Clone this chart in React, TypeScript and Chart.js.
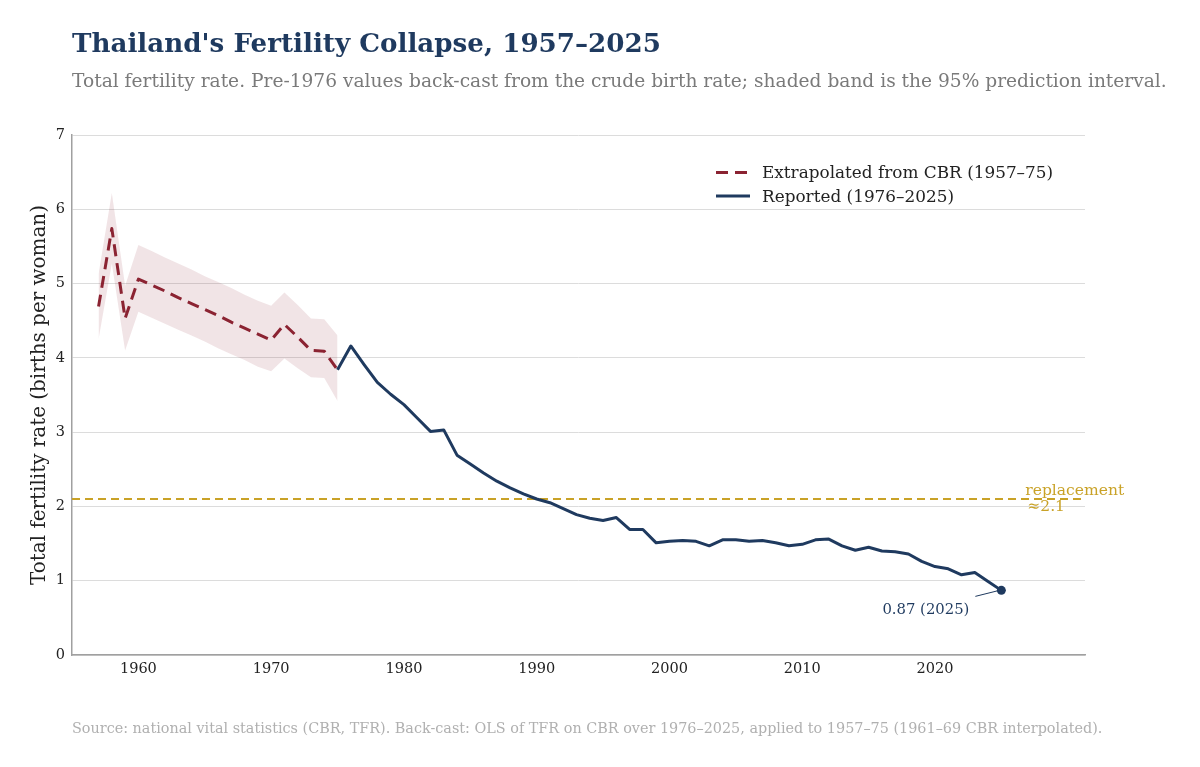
import React, { useEffect, useRef } from "react";
import { Chart, registerables } from "chart.js";

Chart.register(...registerables);

// ---------- data ----------
const extrapYears = [1957, 1958, 1959, 1960, 1961, 1962, 1963, 1964, 1965, 1966, 1967, 1968, 1969, 1970, 1971, 1972, 1973, 1974, 1975];
const extrapTFR = [4.69, 5.74, 4.53, 5.06, 4.98, 4.90, 4.81, 4.73, 4.65, 4.57, 4.48, 4.40, 4.32, 4.24, 4.45, 4.28, 4.10, 4.09, 3.84];
const bandUpper = [5.13, 6.22, 4.97, 5.52, 5.44, 5.35, 5.27, 5.19, 5.10, 5.02, 4.94, 4.85, 4.77, 4.70, 4.88, 4.71, 4.53, 4.52, 4.30];
const bandLower = [4.25, 5.27, 4.10, 4.62, 4.54, 4.46, 4.38, 4.30, 4.22, 4.13, 4.05, 3.97, 3.88, 3.82, 3.99, 3.86, 3.74, 3.73, 3.42];

const reportedYears = [
  1976, 1977, 1978, 1979, 1980, 1981, 1982, 1983, 1984, 1985,
  1986, 1987, 1988, 1989, 1990, 1991, 1992, 1993, 1994, 1995,
  1996, 1997, 1998, 1999, 2000, 2001, 2002, 2003, 2004, 2005,
  2006, 2007, 2008, 2009, 2010, 2011, 2012, 2013, 2014, 2015,
  2016, 2017, 2018, 2019, 2020, 2021, 2022, 2023, 2024, 2025,
];
const reportedTFR = [
  4.16, 3.91, 3.67, 3.51, 3.37, 3.19, 3.01, 3.03, 2.69, 2.57,
  2.45, 2.34, 2.25, 2.17, 2.10, 2.05, 1.97, 1.89, 1.84, 1.81,
  1.85, 1.69, 1.69, 1.51, 1.53, 1.54, 1.53, 1.47, 1.55, 1.55,
  1.53, 1.54, 1.51, 1.47, 1.49, 1.55, 1.56, 1.47, 1.41, 1.45,
  1.40, 1.39, 1.36, 1.26, 1.19, 1.16, 1.08, 1.11, 0.99, 0.87,
];

const xTicks = [1960, 1970, 1980, 1990, 2000, 2010, 2020];
const yTicks = [0, 1, 2, 3, 4, 5, 6, 7];
const replacementTFR = 2.1;
const xMin = 1955;
const xMax = 2031.3;

const TITLE = "Thailand's Fertility Collapse, 1957\u20132025";
const SUBTITLE = "Total fertility rate. Pre-1976 values back-cast from the crude birth rate; shaded band is the 95% prediction interval.";
const FOOTER = "Source: national vital statistics (CBR, TFR). Back-cast: OLS of TFR on CBR over 1976\u20132025, applied to 1957\u201375 (1961\u201369 CBR interpolated).";
const Y_TITLE = "Total fertility rate (births per woman)";
const LEGEND_EXTRAP = "Extrapolated from CBR (1957\u201375)";
const LEGEND_REPORTED = "Reported (1976\u20132025)";

const NAVY = "#1f3a5f";
const RED = "#8b2332";
const GOLD = "#c9a227";
const FONT = "'DejaVu Serif', serif";

function fitFont(ctx: CanvasRenderingContext2D, text: string, weight: string, target: number) {
  ctx.font = `${weight} 100px ${FONT}`;
  const w = ctx.measureText(text).width;
  const size = (100 * target) / w;
  return `${weight} ${size.toFixed(2)}px ${FONT}`;
}

const textPlugin = {
  id: "textPlugin",
  afterDraw(chart: any) {
    const ctx: CanvasRenderingContext2D = chart.ctx;
    const xs = chart.scales.x;
    const ys = chart.scales.y;
    const area = chart.chartArea;
    ctx.save();
    ctx.textAlign = "left";
    ctx.textBaseline = "alphabetic";

    // Title
    ctx.fillStyle = NAVY;
    ctx.font = fitFont(ctx, TITLE, "bold", 589);
    ctx.fillText(TITLE, 72, 52);

    // Subtitle
    ctx.fillStyle = "#7a7a7a";
    ctx.font = fitFont(ctx, SUBTITLE, "normal", 1096);
    ctx.fillText(SUBTITLE, 72, 87);

    // Footer
    ctx.fillStyle = "#b0b0b0";
    ctx.font = fitFont(ctx, FOOTER, "normal", 1031);
    ctx.fillText(FOOTER, 72, 733);

    // Y axis title
    ctx.save();
    ctx.translate(40, (area.top + area.bottom) / 2);
    ctx.rotate(-Math.PI / 2);
    ctx.fillStyle = "#222";
    ctx.textAlign = "center";
    ctx.textBaseline = "middle";
    ctx.font = fitFont(ctx, Y_TITLE, "normal", 380);
    ctx.fillText(Y_TITLE, 0, 0);
    ctx.restore();

    // Legend
    const legendFont = fitFont(ctx, LEGEND_EXTRAP, "normal", 291);
    ctx.lineWidth = 3;
    ctx.strokeStyle = RED;
    ctx.setLineDash([12, 7]);
    ctx.beginPath();
    ctx.moveTo(716, 172.5);
    ctx.lineTo(750, 172.5);
    ctx.stroke();
    ctx.setLineDash([]);
    ctx.strokeStyle = NAVY;
    ctx.beginPath();
    ctx.moveTo(716, 196);
    ctx.lineTo(750, 196);
    ctx.stroke();
    ctx.font = legendFont;
    ctx.fillStyle = "#222";
    ctx.fillText(LEGEND_EXTRAP, 762, 178);
    ctx.fillText(LEGEND_REPORTED, 762, 202);

    // Replacement label
    const yRep = ys.getPixelForValue(replacementTFR);
    const xRep = xs.getPixelForValue(2026.8);
    ctx.fillStyle = GOLD;
    ctx.font = fitFont(ctx, "replacement", "normal", 99);
    ctx.fillText("replacement", xRep, yRep - 4);
    ctx.fillText("\u22482.1", xRep + 2, yRep + 12);

    // End annotation
    const lastX = reportedYears[reportedYears.length - 1];
    const lastY = reportedTFR[reportedTFR.length - 1];
    const px = xs.getPixelForValue(lastX);
    const py = ys.getPixelForValue(lastY);
    ctx.strokeStyle = NAVY;
    ctx.lineWidth = 1;
    ctx.beginPath();
    ctx.moveTo(px - 26, py + 6);
    ctx.lineTo(px - 2, py);
    ctx.stroke();
    ctx.fillStyle = NAVY;
    ctx.textAlign = "right";
    const ann = `${lastY.toFixed(2)} (${lastX})`;
    ctx.font = fitFont(ctx, ann, "normal", 87);
    ctx.fillText(ann, px - 32, py + 24);

    ctx.restore();
  },
};

export default function App() {
  const canvasRef = useRef<HTMLCanvasElement | null>(null);

  useEffect(() => {
    const canvas = canvasRef.current;
    if (!canvas) return;

    const extrapPts = extrapYears.map((x, i) => ({ x, y: extrapTFR[i] }));
    const upperPts = extrapYears.map((x, i) => ({ x, y: bandUpper[i] }));
    const lowerPts = extrapYears.map((x, i) => ({ x, y: bandLower[i] }));
    const reportedPts = [
      { x: extrapYears[extrapYears.length - 1], y: extrapTFR[extrapTFR.length - 1] },
      ...reportedYears.map((x, i) => ({ x, y: reportedTFR[i] })),
    ];
    const lastPt = [{ x: reportedYears[reportedYears.length - 1], y: reportedTFR[reportedTFR.length - 1] }];
    const repPts = [
      { x: xMin, y: replacementTFR },
      { x: xMax, y: replacementTFR },
    ];

    const chart = new Chart(canvas, {
      type: "line",
      data: {
        datasets: [
          { label: "upper", data: upperPts, borderWidth: 0, pointRadius: 0, fill: false, order: 6 },
          {
            label: "lower",
            data: lowerPts,
            borderWidth: 0,
            pointRadius: 0,
            fill: "-1",
            backgroundColor: "rgba(139,35,50,0.12)",
            order: 5,
          },
          {
            label: "replacement",
            data: repPts,
            borderColor: GOLD,
            borderWidth: 2,
            borderDash: [8, 5],
            pointRadius: 0,
            fill: false,
            order: 4,
          },
          {
            label: LEGEND_EXTRAP,
            data: extrapPts,
            borderColor: RED,
            borderWidth: 3,
            borderDash: [12, 7],
            borderJoinStyle: "round",
            pointRadius: 0,
            fill: false,
            order: 3,
          },
          {
            label: LEGEND_REPORTED,
            data: reportedPts,
            borderColor: NAVY,
            borderWidth: 3,
            borderJoinStyle: "round",
            pointRadius: 0,
            fill: false,
            order: 2,
          },
          {
            label: "last",
            data: lastPt,
            borderColor: NAVY,
            backgroundColor: NAVY,
            pointRadius: 4.5,
            pointBorderWidth: 0,
            showLine: false,
            order: 1,
          },
        ],
      },
      options: {
        animation: false,
        responsive: false,
        devicePixelRatio: 1,
        layout: { padding: { left: 0, right: 115, top: 135, bottom: 52 } },
        plugins: {
          legend: { display: false },
          tooltip: { enabled: false },
        },
        scales: {
          x: {
            type: "linear",
            min: xMin,
            max: xMax,
            afterBuildTicks: (s: any) => {
              s.ticks = xTicks.map((v) => ({ value: v }));
            },
            afterFit: (s: any) => {
              s.height = 60;
            },
            ticks: {
              callback: (v: any) => String(v),
              color: "#222",
              font: { family: FONT, size: 14.5 },
              padding: 6,
              maxRotation: 0,
              autoSkip: false,
            },
            grid: { display: false, drawTicks: false },
            border: { display: true, color: "#a0a0a0", width: 1.5 },
          },
          y: {
            type: "linear",
            min: yTicks[0],
            max: yTicks[yTicks.length - 1],
            afterBuildTicks: (s: any) => {
              s.ticks = yTicks.map((v) => ({ value: v }));
            },
            afterFit: (s: any) => {
              s.width = 72;
            },
            ticks: {
              callback: (v: any) => String(v),
              color: "#222",
              font: { family: FONT, size: 14.5 },
              padding: 7,
            },
            grid: { color: "#dcdcdc", lineWidth: 1, drawTicks: false },
            border: { display: true, color: "#a0a0a0", width: 1.5 },
          },
        },
      },
      plugins: [textPlugin],
    } as any);

    return () => chart.destroy();
  }, []);

  return (
    <div style={{ position: "fixed", left: 0, top: 0, width: 1200, height: 767, background: "#fff" }}>
      <canvas ref={canvasRef} width={1200} height={767} style={{ width: 1200, height: 767, display: "block" }} />
    </div>
  );
}
